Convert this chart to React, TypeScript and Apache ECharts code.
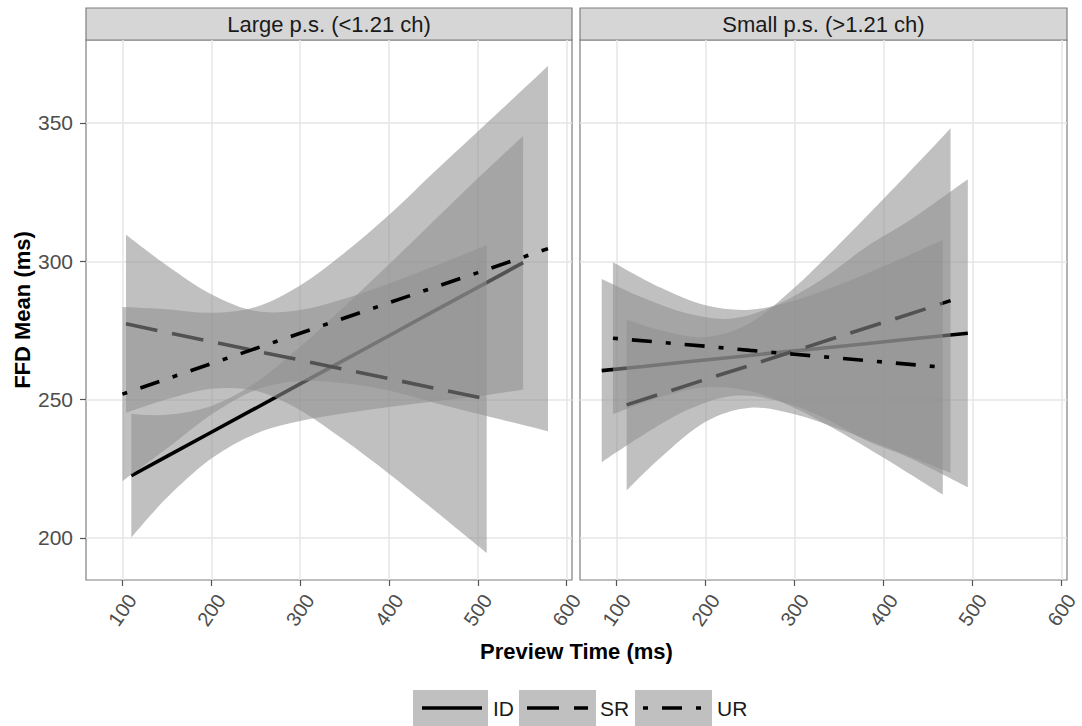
import { useEffect, useRef } from 'react';
import * as echarts from 'echarts';

// ---------- data ----------
const panelTitles = ['Large p.s. (<1.21 ch)', 'Small p.s. (>1.21 ch)'];
const groupNames = ['ID', 'SR', 'UR'];
const xTicks = [100, 200, 300, 400, 500, 600];
const yTicks = [200, 250, 300, 350];
const xTitle = 'Preview Time (ms)';
const yTitle = 'FFD Mean (ms)';

// Large p.s. (<1.21 ch)
const largeIdX = [110, 150, 200, 250, 300, 350, 400, 450, 500, 551];
const largeIdFit = [222.5, 229.5, 238.2, 246.9, 255.7, 264.4, 273.1, 281.9, 290.6, 299.5];
const largeIdLow = [200.2, 214.5, 228.7, 237.7, 242.3, 245.1, 247.3, 249.3, 251.2, 253.7];
const largeIdHigh = [244.8, 244.5, 247.7, 256.1, 269.1, 283.7, 298.9, 314.5, 330.0, 345.3];

const largeSrX = [104, 150, 200, 250, 300, 350, 400, 450, 510];
const largeSrFit = [277.4, 274.3, 271.0, 267.6, 264.3, 260.9, 257.6, 254.2, 250.2];
const largeSrLow = [245.2, 250.1, 253.9, 253.2, 246.2, 235.3, 223.2, 210.3, 194.6];
const largeSrHigh = [309.6, 298.5, 288.1, 282.0, 282.4, 286.5, 292.0, 298.1, 305.8];

const largeUrX = [100, 150, 200, 250, 300, 350, 400, 450, 500, 579];
const largeUrFit = [252.0, 257.5, 263.0, 268.5, 274.0, 279.5, 285.0, 290.5, 295.9, 304.6];
const largeUrLow = [220.5, 232.3, 244.6, 253.5, 256.7, 255.9, 253.3, 249.0, 244.9, 238.6];
const largeUrHigh = [283.5, 282.7, 281.4, 283.5, 291.3, 303.1, 316.7, 332.0, 346.9, 370.6];

// Small p.s. (>1.21 ch)
const smallIdX = [83.4, 130, 180, 230, 280, 330, 380, 430, 494.6];
const smallIdFit = [260.5, 262.0, 263.7, 265.3, 267.0, 268.6, 270.2, 271.9, 274.0];
const smallIdLow = [227.4, 237.2, 246.3, 251.3, 249.7, 243.9, 235.3, 228.8, 218.3];
const smallIdHigh = [293.6, 286.8, 281.1, 279.3, 284.3, 293.3, 305.1, 315.0, 329.7];

const smallSrX = [111.4, 150, 200, 250, 300, 350, 400, 450, 475.2];
const smallSrFit = [248.1, 252.1, 257.3, 262.4, 267.6, 272.8, 277.9, 283.1, 285.8];
const smallSrLow = [217.2, 229.2, 242.0, 247.1, 244.7, 239.4, 233.2, 226.8, 223.5];
const smallSrHigh = [279.0, 275.0, 272.6, 277.7, 290.5, 306.2, 322.6, 339.4, 348.1];

const smallUrX = [96, 150, 200, 250, 300, 350, 400, 466.5];
const smallUrFit = [272.2, 270.7, 269.3, 267.8, 266.4, 265.0, 263.6, 261.7];
const smallUrLow = [244.7, 251.0, 254.5, 253.1, 247.0, 238.5, 229.0, 215.7];
const smallUrHigh = [299.7, 290.4, 284.1, 282.5, 285.8, 291.5, 298.2, 307.7];

// ---------- styling ----------
const FONT = '"Liberation Sans", Arial, Helvetica, sans-serif';
const BAND_FILL = 'rgba(145,145,145,0.57)';
const BORDER = '#7f7f7f';
const GRIDLINE = '#e6e6e6';
const DASHES: any[] = ['solid', [32, 15], [5, 14, 20, 14]];
const X_MIN = 59;
const X_MAX = 606;
const Y_MIN = 184.8;
const Y_MAX = 380;

type Group = { x: number[]; fit: number[]; low: number[]; high: number[] };

const panelData: Group[][] = [
  [
    { x: largeIdX, fit: largeIdFit, low: largeIdLow, high: largeIdHigh },
    { x: largeSrX, fit: largeSrFit, low: largeSrLow, high: largeSrHigh },
    { x: largeUrX, fit: largeUrFit, low: largeUrLow, high: largeUrHigh },
  ],
  [
    { x: smallIdX, fit: smallIdFit, low: smallIdLow, high: smallIdHigh },
    { x: smallSrX, fit: smallSrFit, low: smallSrLow, high: smallSrHigh },
    { x: smallUrX, fit: smallUrFit, low: smallUrLow, high: smallUrHigh },
  ],
];

const gridBoxes = [
  { left: 86, top: 40, width: 486, height: 540 },
  { left: 580, top: 40, width: 487, height: 540 },
];

// Catmull-Rom -> cubic Bezier segments through pixel points (drawing only)
function splineSegments(pts: number[][]): string {
  let d = '';
  for (let i = 0; i < pts.length - 1; i++) {
    const p0 = pts[i - 1] || pts[i];
    const p1 = pts[i];
    const p2 = pts[i + 1];
    const p3 = pts[i + 2] || p2;
    const c1x = p1[0] + (p2[0] - p0[0]) / 6;
    const c1y = p1[1] + (p2[1] - p0[1]) / 6;
    const c2x = p2[0] - (p3[0] - p1[0]) / 6;
    const c2y = p2[1] - (p3[1] - p1[1]) / 6;
    d += ` C${c1x},${c1y} ${c2x},${c2y} ${p2[0]},${p2[1]}`;
  }
  return d;
}

function buildOption() {
  const series: any[] = [];
  panelData.forEach((groups, p) => {
    groups.forEach((g, gi) => {
      series.push({
        type: 'custom',
        name: groupNames[gi] + ' band ' + p,
        xAxisIndex: p,
        yAxisIndex: p,
        z: 2 + gi * 2,
        silent: true,
        data: [[g.x[0], g.low[0]]],
        renderItem: (_params: any, api: any) => {
          const up = g.x.map((x, i) => api.coord([x, g.high[i]]));
          const lo = g.x.map((x, i) => api.coord([x, g.low[i]])).reverse();
          const d =
            `M${up[0][0]},${up[0][1]}` +
            splineSegments(up) +
            ` L${lo[0][0]},${lo[0][1]}` +
            splineSegments(lo) +
            ' Z';
          return { type: 'path', shape: { pathData: d }, style: { fill: BAND_FILL } };
        },
      });
      series.push({
        type: 'line',
        name: groupNames[gi],
        xAxisIndex: p,
        yAxisIndex: p,
        z: 3 + gi * 2,
        silent: true,
        showSymbol: false,
        symbol: 'none',
        data: g.x.map((v, i) => [v, g.fit[i]]),
        lineStyle: { color: '#000', width: 3.6, type: DASHES[gi], cap: 'butt' },
      });
    });
  });

  const grid = gridBoxes.map((b) => ({
    ...b,
    show: true,
    borderColor: BORDER,
    borderWidth: 1.2,
    backgroundColor: '#fff',
    containLabel: false,
  }));

  const xAxis = gridBoxes.map((_, p) => ({
    type: 'value',
    gridIndex: p,
    min: X_MIN,
    max: X_MAX,
    axisLine: { show: false },
    axisTick: { show: true, length: 6, lineStyle: { color: '#555', width: 1.2 }, customValues: xTicks },
    axisLabel: {
      customValues: xTicks,
      rotate: 55,
      align: 'center',
      verticalAlign: 'middle',
      margin: 30,
      fontSize: 20,
      fontFamily: FONT,
      color: '#4d4d4d',
    },
    splitLine: { show: true, lineStyle: { color: GRIDLINE, width: 1.5 } },
  }));

  const yAxis = gridBoxes.map((_, p) => ({
    type: 'value',
    gridIndex: p,
    min: Y_MIN,
    max: Y_MAX,
    axisLine: { show: false },
    axisTick: { show: p === 0, length: 6, lineStyle: { color: '#555', width: 1.2 }, customValues: yTicks },
    axisLabel: {
      show: p === 0,
      customValues: yTicks,
      margin: 13,
      fontSize: 21,
      fontFamily: FONT,
      color: '#4d4d4d',
    },
    splitLine: { show: true, lineStyle: { color: GRIDLINE, width: 1.5 } },
  }));

  const graphic: any[] = [];
  gridBoxes.forEach((b, p) => {
    graphic.push({
      type: 'rect',
      shape: { x: b.left, y: 8, width: b.width, height: 32 },
      style: { fill: '#d6d6d6', stroke: BORDER, lineWidth: 1.2 },
      silent: true,
    });
    graphic.push({
      type: 'text',
      x: b.left + b.width / 2,
      y: 24,
      style: {
        text: panelTitles[p],
        x: 0,
        y: 0,
        align: 'center',
        verticalAlign: 'middle',
        textAlign: 'center',
        textVerticalAlign: 'middle',
        font: '22px ' + FONT,
        fill: '#1a1a1a',
      },
      silent: true,
    });
  });

  graphic.push({
    type: 'text',
    x: 576.5,
    y: 651,
    style: {
      text: xTitle,
      x: 0,
      y: 0,
      align: 'center',
      verticalAlign: 'middle',
      textAlign: 'center',
      textVerticalAlign: 'middle',
      font: 'bold 22px ' + FONT,
      fill: '#000',
    },
    silent: true,
  });
  graphic.push({
    type: 'text',
    x: 22,
    y: 310,
    rotation: Math.PI / 2,
    style: {
      text: yTitle,
      x: 0,
      y: 0,
      align: 'center',
      verticalAlign: 'middle',
      textAlign: 'center',
      textVerticalAlign: 'middle',
      font: 'bold 22px ' + FONT,
      fill: '#000',
    },
    silent: true,
  });

  // legend
  const keys = [
    { x: 413, w: 75, l1: 422, l2: 482, tx: 493 },
    { x: 519, w: 77, l1: 527, l2: 588, tx: 600 },
    { x: 635, w: 77, l1: 643, l2: 702, tx: 717 },
  ];
  keys.forEach((k, i) => {
    graphic.push({
      type: 'rect',
      shape: { x: k.x, y: 690, width: k.w, height: 37 },
      style: { fill: '#c0c0c0' },
      silent: true,
    });
    graphic.push({
      type: 'line',
      shape: { x1: k.l1, y1: 708, x2: k.l2, y2: 708 },
      style: {
        stroke: '#000',
        lineWidth: 3.6,
        lineDash: DASHES[i] === 'solid' ? null : DASHES[i],
        lineCap: 'butt',
      },
      silent: true,
    });
    graphic.push({
      type: 'text',
      x: k.tx,
      y: 708,
      style: {
        text: groupNames[i],
        x: 0,
        y: 0,
        align: 'left',
        verticalAlign: 'middle',
        textAlign: 'left',
        textVerticalAlign: 'middle',
        font: '21px ' + FONT,
        fill: '#1a1a1a',
      },
      silent: true,
    });
  });

  return {
    animation: false,
    backgroundColor: '#fff',
    grid,
    xAxis,
    yAxis,
    series,
    graphic,
  };
}

export default function App() {
  const ref = useRef<HTMLDivElement>(null);
  useEffect(() => {
    if (!ref.current) return;
    const chart = echarts.init(ref.current, undefined, { renderer: 'svg' });
    chart.setOption(buildOption() as any);
    return () => chart.dispose();
  }, []);
  return (
    <div
      ref={ref}
      style={{ position: 'fixed', left: 0, top: 0, width: 1082, height: 726, background: '#fff' }}
    />
  );
}
